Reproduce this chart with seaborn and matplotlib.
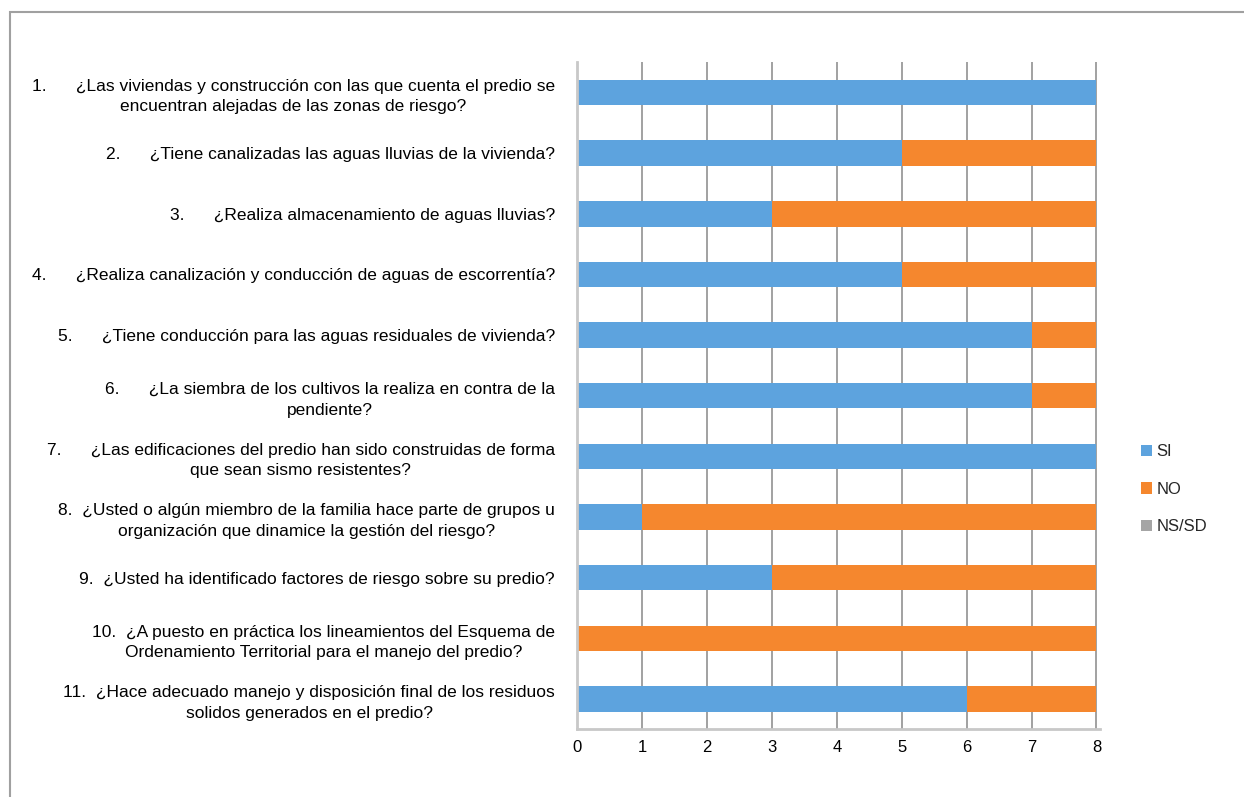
import matplotlib
matplotlib.use("Agg")
import matplotlib.pyplot as plt
import seaborn as sns
import pandas as pd
from matplotlib.patches import Patch, Rectangle

questions = [
    "1.      ¿Las viviendas y construcción con las que cuenta el predio se\nencuentran alejadas de las zonas de riesgo?",
    "2.      ¿Tiene canalizadas las aguas lluvias de la vivienda?",
    "3.      ¿Realiza almacenamiento de aguas lluvias?",
    "4.      ¿Realiza canalización y conducción de aguas de escorrentía?",
    "5.      ¿Tiene conducción para las aguas residuales de vivienda?",
    "6.      ¿La siembra de los cultivos la realiza en contra de la\npendiente?",
    "7.      ¿Las edificaciones del predio han sido construidas de forma\nque sean sismo resistentes?",
    "8.  ¿Usted o algún miembro de la familia hace parte de grupos u\norganización que dinamice la gestión del riesgo?",
    "9.  ¿Usted ha identificado factores de riesgo sobre su predio?",
    "10.  ¿A puesto en práctica los lineamientos del Esquema de\nOrdenamiento Territorial para el manejo del predio?",
    "11.  ¿Hace adecuado manejo y disposición final de los residuos\nsolidos generados en el predio?",
]
si = [8, 5, 3, 5, 7, 7, 8, 1, 3, 0, 6]
no = [0, 3, 5, 3, 1, 1, 0, 7, 5, 8, 2]
nssd = [0, 0, 0, 0, 0, 0, 0, 0, 0, 0, 0]
series_names = ["SI", "NO", "NS/SD"]
colors = {"SI": "#5DA3DE", "NO": "#F5872E", "NS/SD": "#A5A5A5"}
x_ticks = [0, 1, 2, 3, 4, 5, 6, 7, 8]

df = pd.DataFrame({"q": questions, "SI": si, "NO": no, "NS/SD": nssd})
df["cum_si"] = df["SI"]
df["cum_no"] = df["SI"] + df["NO"]
df["cum_all"] = df["cum_no"] + df["NS/SD"]

sns.set_theme(style="white")
plt.rcParams["font.family"] = ["Liberation Sans", "DejaVu Sans"]

fig = plt.figure(figsize=(12.44, 7.97), dpi=100)
ax = fig.add_axes([0.464, 0.085, 0.42, 0.837])

bw = 0.42
for col, name in [("cum_all", "NS/SD"), ("cum_no", "NO"), ("cum_si", "SI")]:
    sns.barplot(data=df, y="q", x=col, color=colors[name], orient="h",
                width=bw, ax=ax, linewidth=0, order=questions, saturation=1)

ax.set_xlim(0, 8.05)
ax.set_ylim(10.5, -0.5)
ax.set_xticks(x_ticks)
ax.set_xticklabels([str(t) for t in x_ticks], fontsize=12, color="#000000")
ax.set_xlabel("")
ax.set_ylabel("")
for xv in x_ticks:
    ax.axvline(xv, color="#9a9a9a", lw=1.3, zorder=0)
ax.set_axisbelow(True)

for s in ["top", "right"]:
    ax.spines[s].set_visible(False)
ax.spines["left"].set_color("#c8c8c8")
ax.spines["left"].set_linewidth(2)
ax.spines["bottom"].set_color("#c8c8c8")
ax.spines["bottom"].set_linewidth(2)
ax.tick_params(axis="x", length=0, pad=8)
ax.tick_params(axis="y", length=4, color="#888888", pad=12, labelsize=12.5)
ax.set_yticks([i for i in range(len(questions))])
ax.set_yticklabels(questions)
for lab in ax.get_yticklabels():
    lab.set_multialignment("center")
    lab.set_linespacing(1.45)
    lab.set_color("#000000")

handles = [Patch(facecolor=colors[n], edgecolor="none") for n in series_names]
fig.legend(handles, series_names, loc="center left",
           bbox_to_anchor=(0.905, 0.386), frameon=False, fontsize=12,
           handlelength=0.65, handleheight=0.65, handletextpad=0.3,
           labelspacing=1.35)

fig.patches.append(Rectangle((10 / 1244, -0.01), 1.0, 1 - 12 / 797 + 0.01,
                             transform=fig.transFigure, fill=False,
                             edgecolor="#a0a0a0", lw=1.5))

fig.savefig("out.png", dpi=100)
